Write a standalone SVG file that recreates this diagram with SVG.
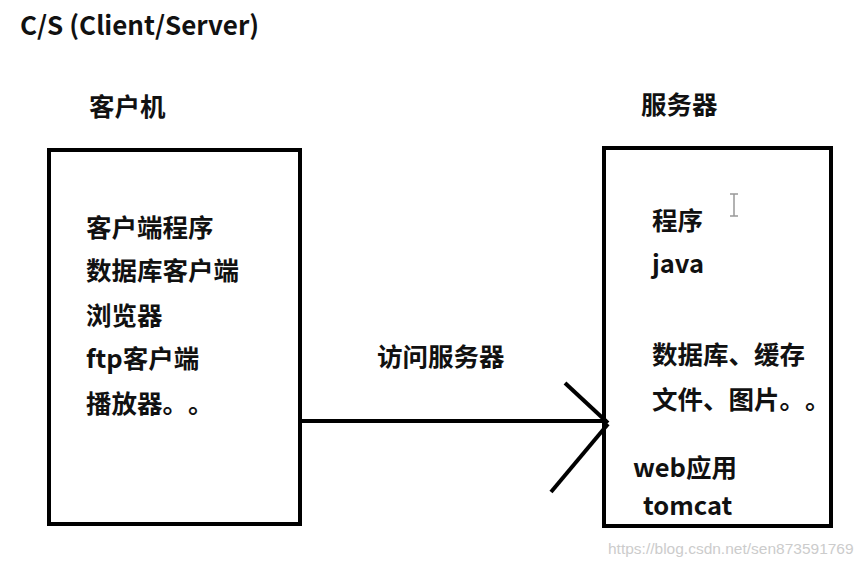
<svg xmlns="http://www.w3.org/2000/svg" width="867" height="566" viewBox="0 0 867 566">
<style>
  .t { font-family: "Noto Sans CJK SC", "Noto Sans", sans-serif; font-weight: bold; fill: #111; font-size: 25.5px; text-spacing-trim: space-all; }
  .box { fill: none; stroke: #000; stroke-width: 4; }
  .conn { fill: none; stroke: #000; stroke-width: 4; stroke-linecap: butt; }
</style>
<rect width="867" height="566" fill="#fff"/>
<text class="t" x="20" y="35" style="font-size:26px">C/S (Client/Server)</text>

<g id="client">
  <text class="t" x="89" y="116">客户机</text>
  <rect class="box" x="49" y="150" width="251" height="374"/>
  <text class="t" x="86" y="237">客户端程序</text>
  <text class="t" x="86" y="280">数据库客户端</text>
  <text class="t" x="86" y="325">浏览器</text>
  <text class="t" x="86" y="368">ftp客户端</text>
  <text class="t" x="86" y="413">播放器。。</text>
</g>

<g id="server">
  <text class="t" x="641" y="114">服务器</text>
  <rect class="box" x="604" y="148" width="227" height="378"/>
  <text class="t" x="652" y="230">程序</text>
  <text class="t" x="652" y="273">java</text>
  <text class="t" x="652" y="364">数据库、缓存</text>
  <text class="t" x="652" y="409">文件、图片。。</text>
  <text class="t" x="633" y="477">web应用</text>
  <text class="t" x="643" y="515">tomcat</text>
</g>

<g id="connectors">
  <line class="conn" x1="300" y1="421" x2="607" y2="421"/>
  <line class="conn" x1="565" y1="383" x2="608" y2="423"/>
  <line class="conn" x1="551" y1="492" x2="608" y2="424"/>
  <text class="t" x="377" y="366">访问服务器</text>
</g>

<path d="M730 194 H738 M734 194 V216 M730 216 H738" stroke="#999" stroke-width="1.5" fill="none"/>
<text x="608" y="554" font-family="Liberation Sans, Arial, sans-serif" font-size="15.5" fill="#ccc">https://blog.csdn.net/sen873591769</text>
</svg>
